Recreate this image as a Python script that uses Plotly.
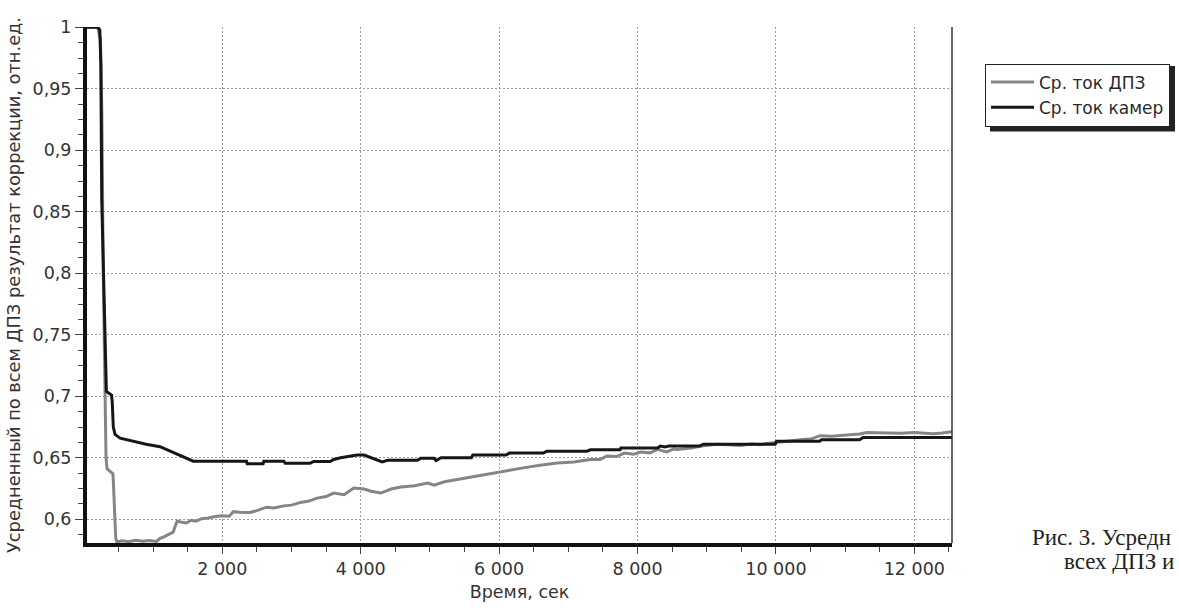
import plotly.graph_objects as go

# ---- data ----
dpz_time = [20, 200, 240, 260, 280, 300, 320, 335, 420, 430,
            445, 460, 475, 550, 650, 750, 850, 950, 1050, 1100,
            1150, 1200, 1250, 1290, 1330, 1350, 1420, 1480, 1550, 1620,
            1700, 1800, 1900, 2000, 2100, 2160, 2250, 2400, 2500, 2640,
            2750, 2890, 3000, 3130, 3250, 3370, 3500, 3610, 3760, 3900,
            4050, 4150, 4290, 4440, 4580, 4780, 4970, 5060, 5210, 5380,
            5620, 5860, 6110, 6350, 6590, 6840, 7080, 7320, 7460, 7560,
            7700, 7810, 7940, 8050, 8180, 8290, 8420, 8530, 8570, 8780,
            8900, 9000, 9150, 9300, 9480, 9650, 9770, 9900, 10010, 10200,
            10350, 10500, 10640, 10800, 10930, 11100, 11210, 11310, 11500, 11800,
            12000, 12270, 12400, 12520, 12550]
dpz_value = [1.0, 1.0, 0.99, 0.93, 0.80, 0.72, 0.65, 0.641, 0.637, 0.625,
             0.60, 0.585, 0.5815, 0.5825, 0.5818, 0.583, 0.5822, 0.5828, 0.582, 0.5845,
             0.5855, 0.587, 0.588, 0.5895, 0.596, 0.5985, 0.5975, 0.597, 0.5992, 0.5985,
             0.6005, 0.601, 0.6022, 0.6028, 0.6025, 0.6062, 0.6058, 0.6055, 0.607, 0.6098,
             0.6092, 0.6109, 0.6115, 0.6137, 0.6148, 0.6172, 0.6185, 0.6213, 0.620, 0.6254,
             0.6246, 0.6228, 0.6213, 0.6246, 0.6262, 0.6273, 0.6295, 0.6278, 0.6305, 0.6322,
             0.635, 0.637, 0.6397, 0.6418, 0.644, 0.6458, 0.6465, 0.6486, 0.6487, 0.6515,
             0.651, 0.6538, 0.6528, 0.6546, 0.654, 0.6568, 0.6548, 0.6572, 0.6567, 0.658,
             0.6594, 0.6598, 0.661, 0.6605, 0.660, 0.6612, 0.6607, 0.6618, 0.6626, 0.6635,
             0.6647, 0.6652, 0.668, 0.6676, 0.668, 0.6685, 0.6693, 0.6706, 0.6702, 0.670,
             0.6705, 0.6695, 0.6702, 0.6708, 0.6712]

cam_time = [20, 200, 230, 245, 258, 283, 310, 325, 400, 410,
            425, 450, 523, 700, 900, 1100, 1250, 1390, 1500, 1580,
            2350, 2360, 2590, 2600, 2890, 2910, 3270, 3320, 3560, 3610,
            3710, 3850, 3950, 4050, 4150, 4310, 4390, 4820, 4870, 5060,
            5090, 5160, 5600, 5620, 6100, 6150, 6640, 6690, 7270, 7320,
            7750, 7760, 8290, 8330, 8400, 8450, 8900, 8950, 9990, 10010,
            10630, 10660, 11210, 11260, 12550]
cam_value = [1.0, 1.0, 0.998, 0.97, 0.86, 0.80, 0.72, 0.704, 0.701, 0.695,
             0.675, 0.669, 0.666, 0.6635, 0.661, 0.659, 0.6555, 0.6523, 0.6495, 0.6472,
             0.6472, 0.6452, 0.6452, 0.6472, 0.6472, 0.6455, 0.6455, 0.647, 0.647, 0.6486,
             0.650, 0.651, 0.6522, 0.6522, 0.650, 0.6467, 0.648, 0.648, 0.6497, 0.6497,
             0.6478, 0.650, 0.650, 0.6522, 0.6522, 0.6538, 0.6538, 0.6554, 0.6554, 0.6565,
             0.6565, 0.6579, 0.6579, 0.6595, 0.6588, 0.6595, 0.6595, 0.661, 0.661, 0.6634,
             0.6634, 0.6647, 0.6647, 0.6665, 0.6665]

series_names = ["Ср. ток ДПЗ", "Ср. ток камер"]
y_tick_values = [0.6, 0.65, 0.7, 0.75, 0.8, 0.85, 0.9, 0.95, 1.0]
y_tick_labels = ["0,6", "0,65", "0,7", "0,75", "0,8", "0,85", "0,9", "0,95", "1"]
x_title = "Время, сек"
y_title = "Усредненный по всем ДПЗ результат коррекции, отн.ед."
caption_lines = ["Рис. 3. Усредн", "всех ДПЗ и"]

# ---- geometry helpers (pixel -> paper) ----
W, H = 1179, 610
ML, MR, MT, MB = 87, 227, 27, 67
PW, PH = W - ML - MR, H - MT - MB


def px(x):
    return (x - ML) / PW


def py(y):
    return (H - MB - y) / PH


SANS = "DejaVu Sans, Verdana, sans-serif"
SERIF = "Liberation Serif, Times New Roman, serif"
TXT = "#333333"

fig = go.Figure()
fig.add_trace(go.Scatter(x=dpz_time, y=dpz_value, mode="lines", name=series_names[0],
                         line=dict(color="#858585", width=3)))
fig.add_trace(go.Scatter(x=cam_time, y=cam_value, mode="lines", name=series_names[1],
                         line=dict(color="#161616", width=3)))

fig.update_layout(
    width=W, height=H,
    margin=dict(l=ML, r=MR, t=MT, b=MB, autoexpand=False),
    paper_bgcolor="white", plot_bgcolor="white",
    separators=", ",
    font=dict(family=SANS, size=17, color=TXT),
    showlegend=True,
    legend=dict(x=px(985), y=py(95), xanchor="left", yanchor="middle",
                bgcolor="white", bordercolor="#222222", borderwidth=1,
                font=dict(family=SANS, size=17, color="#2a2a2a"),
                itemwidth=43, tracegroupgap=0),
)

fig.update_xaxes(
    range=[45, 12545], tick0=0, dtick=2000, tickformat=",d",
    showline=True, linecolor="#111111", linewidth=4,
    ticks="outside", ticklen=7, tickwidth=1, tickcolor="#444444",
    showgrid=True, gridcolor="#9a9a9a", gridwidth=1, griddash="2px,2px",
    zeroline=False,
    minor=dict(dtick=500, tick0=0, ticks="outside", ticklen=5, tickcolor="#444444", showgrid=False),
    title=dict(text=x_title, standoff=9, font=dict(family=SANS, size=17.5, color=TXT)),
    tickfont=dict(family=SANS, size=17.5, color=TXT),
)
fig.update_yaxes(
    range=[0.5807, 1.0003], tickmode="array", tickvals=y_tick_values, ticktext=y_tick_labels,
    showline=True, linecolor="#111111", linewidth=4,
    ticks="outside", ticklen=8, tickwidth=1, tickcolor="#444444",
    showgrid=True, gridcolor="#9a9a9a", gridwidth=1, griddash="2px,2px",
    zeroline=False,
    minor=dict(dtick=0.0125, tick0=0.6, ticks="outside", ticklen=5, tickcolor="#444444", showgrid=False),
    title=dict(text=y_title, standoff=8, font=dict(family=SANS, size=17.8, color=TXT)),
    tickfont=dict(family=SANS, size=17.5, color=TXT),
)

# right frame line (thin); the top edge is only the dotted grid line
fig.add_shape(type="line", xref="paper", yref="paper", x0=1, x1=1, y0=0, y1=1,
              line=dict(color="#333333", width=1.5))
# legend drop shadow (offset behind the legend box)
fig.add_shape(type="rect", xref="paper", yref="paper",
              x0=px(990), x1=px(1175), y0=py(131.5), y1=py(66),
              fillcolor="#222222", line=dict(width=0), layer="above")

fig.add_annotation(text=caption_lines[0], xref="paper", yref="paper",
                   x=px(1030), y=py(537), xanchor="left", yanchor="middle", showarrow=False,
                   font=dict(family=SERIF, size=23, color="#222222"))
fig.add_annotation(text=caption_lines[1], xref="paper", yref="paper",
                   x=px(1062), y=py(561), xanchor="left", yanchor="middle", showarrow=False,
                   font=dict(family=SERIF, size=23, color="#222222"))

fig.write_html("out.html")
